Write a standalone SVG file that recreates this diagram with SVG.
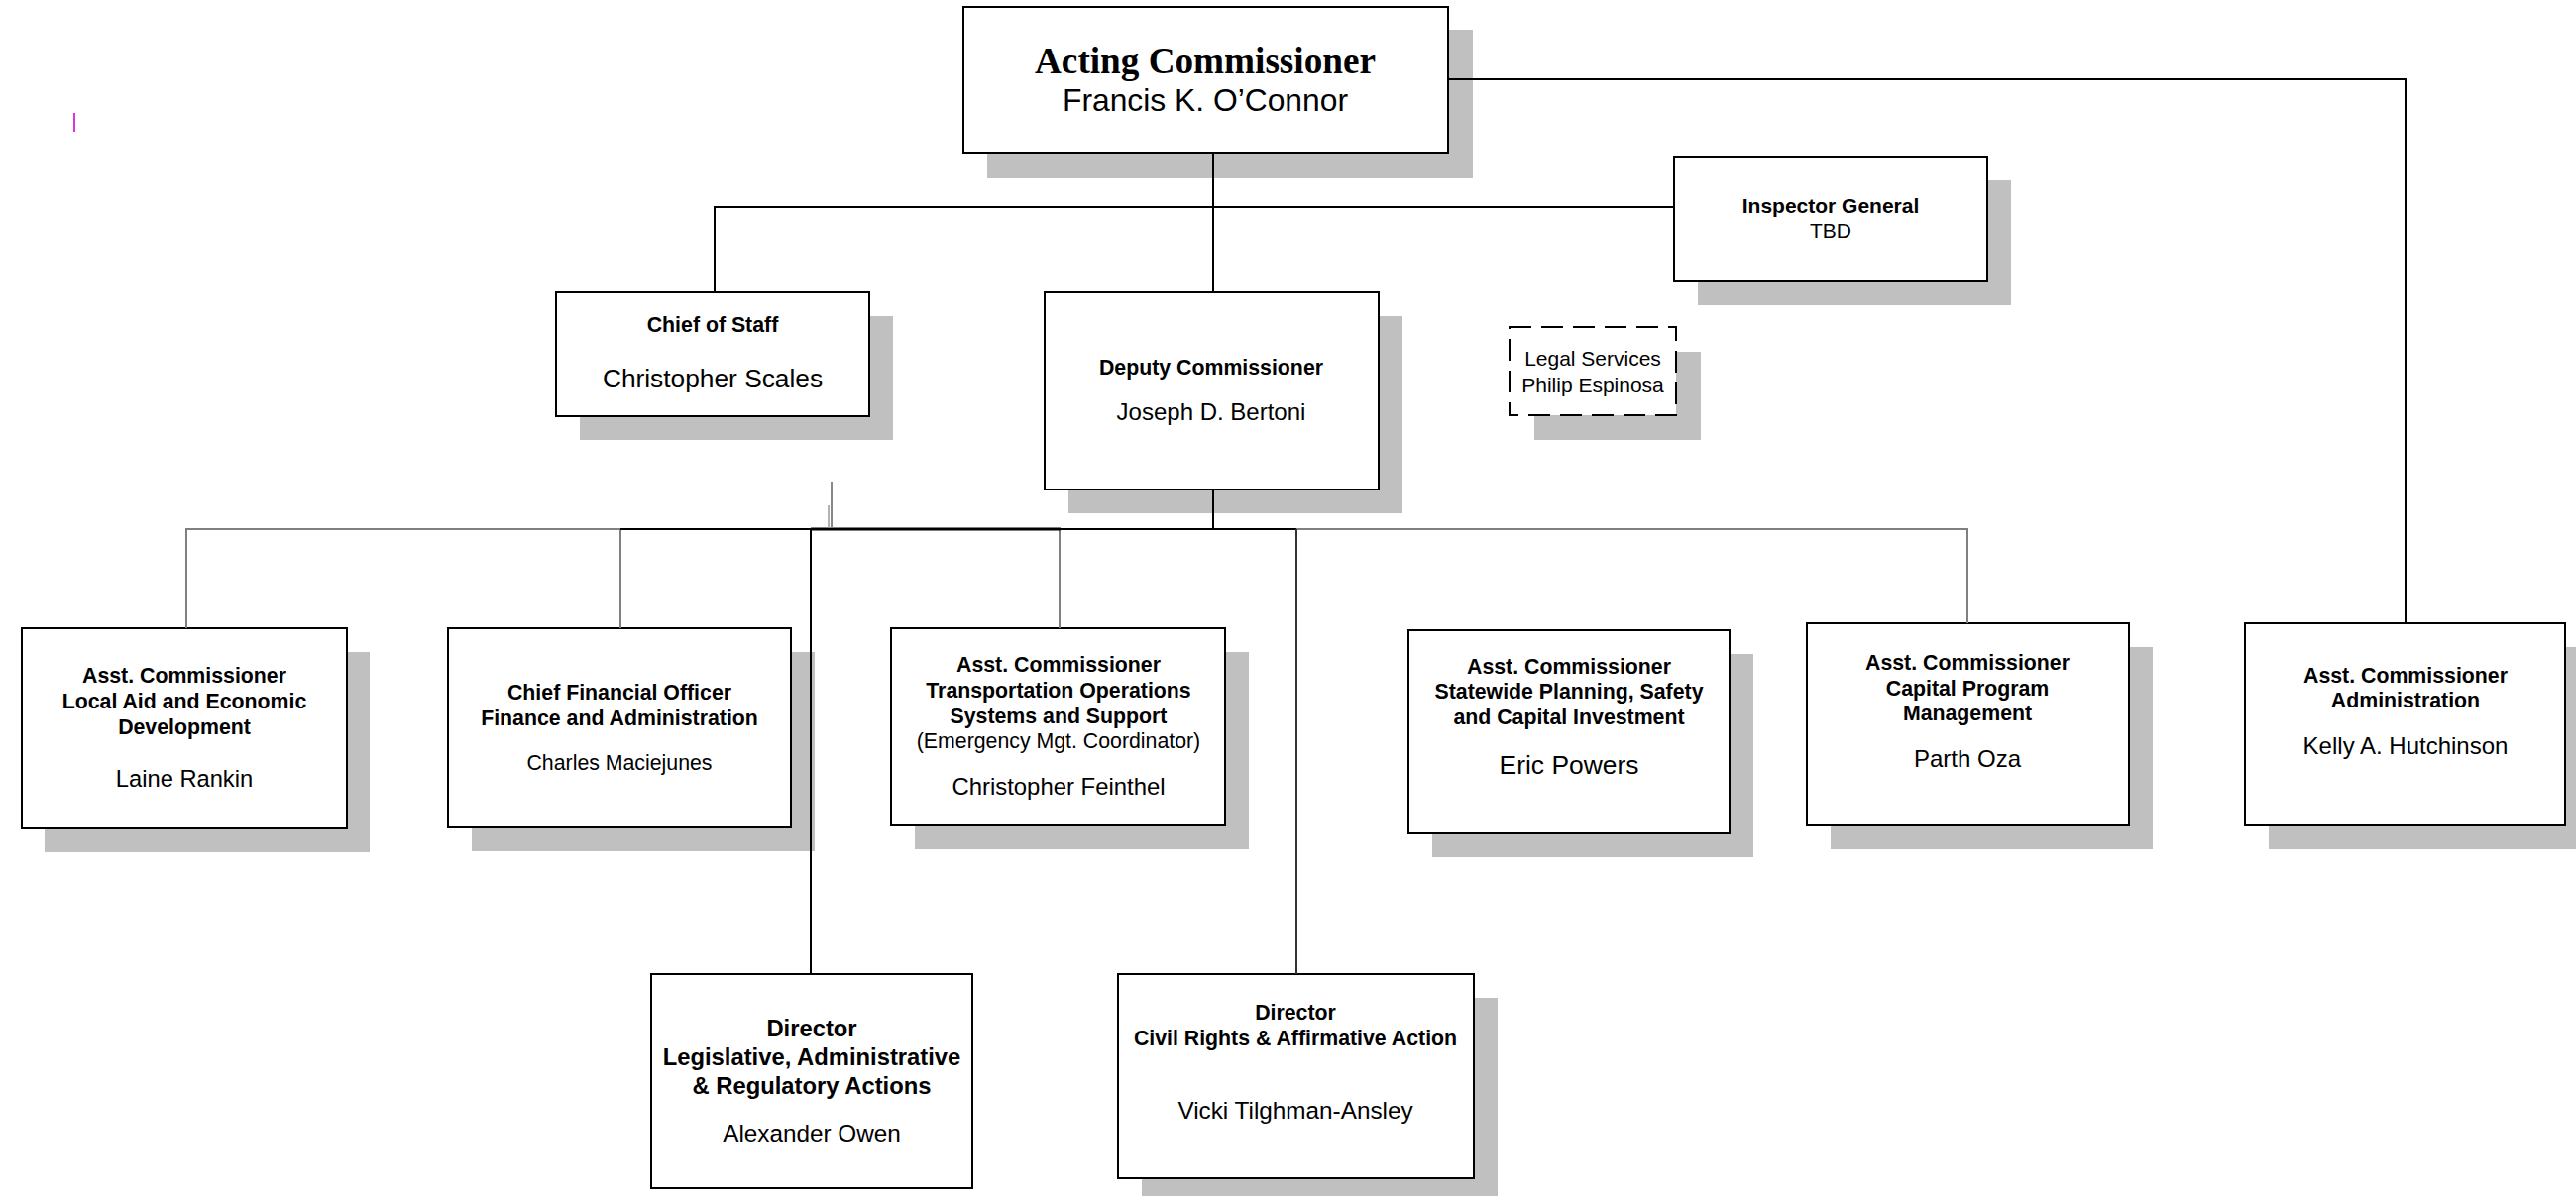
<svg xmlns="http://www.w3.org/2000/svg" width="2599" height="1207" viewBox="0 0 2599 1207">
<style>
.sh{fill:#c0c0c0}
.bx{fill:#fff;stroke:#000;stroke-width:2}
.dash{fill:#fff;stroke:#000;stroke-width:2;stroke-dasharray:22 10}
text{font-family:"Liberation Sans",Arial,sans-serif;text-anchor:middle;fill:#000}
.b{font-weight:bold;font-size:21.3px}
.r{font-size:21.3px}
.n{font-size:24px}
.ln{fill:none;stroke:#000;stroke-width:2}
.gl{fill:none;stroke:#808080;stroke-width:2}
</style>
<rect width="2599" height="1207" fill="#fff"/>
<line x1="75" y1="114" x2="75" y2="133" stroke="#e033e0" stroke-width="2"/>

<g id="acting-commissioner">
<rect class="sh" x="996" y="30" width="490" height="150"/>
<rect class="bx" x="972" y="7" width="489" height="147"/>
<text x="1216" y="74" style="font-family:'Liberation Serif','Times New Roman',serif;font-weight:bold;font-size:37.2px">Acting Commissioner</text>
<text x="1216" y="112" style="font-size:31.8px">Francis K. O’Connor</text>
</g>

<g id="inspector-general">
<rect class="sh" x="1713" y="182" width="316" height="126"/>
<rect class="bx" x="1689" y="158" width="316" height="126"/>
<text class="b" x="1847" y="215" style="font-size:21px">Inspector General</text>
<text class="r" x="1847" y="240" style="font-size:21px">TBD</text>
</g>

<g id="chief-of-staff">
<rect class="sh" x="585" y="319" width="316" height="125"/>
<rect class="bx" x="561" y="295" width="316" height="125"/>
<text class="b" x="719" y="335">Chief of Staff</text>
<text x="719" y="391" style="font-size:26.3px">Christopher Scales</text>
</g>

<g id="deputy-commissioner">
<rect class="sh" x="1078" y="319" width="337" height="199"/>
<rect class="bx" x="1054" y="295" width="337" height="199"/>
<text class="b" x="1222" y="378">Deputy Commissioner</text>
<text class="n" x="1222" y="424">Joseph D. Bertoni</text>
</g>

<g id="legal-services">
<rect class="sh" x="1548" y="355" width="168" height="89"/>
<rect class="dash" x="1523" y="330" width="168" height="89"/>
<text class="r" x="1607" y="369" style="font-size:21px">Legal Services</text>
<text class="r" x="1607" y="396" style="font-size:21px">Philip Espinosa</text>
</g>

<g id="local-aid">
<rect class="sh" x="45" y="658" width="328" height="202"/>
<rect class="bx" x="22" y="634" width="328" height="202"/>
<text class="b" x="186" y="689">Asst. Commissioner</text>
<text class="b" x="186" y="715">Local Aid and Economic</text>
<text class="b" x="186" y="741">Development</text>
<text x="186" y="794" style="font-size:23.7px">Laine Rankin</text>
</g>

<g id="cfo">
<rect class="sh" x="476" y="658" width="346" height="201"/>
<rect class="bx" x="452" y="634" width="346" height="201"/>
<text class="b" x="625" y="706">Chief Financial Officer</text>
<text class="b" x="625" y="732">Finance and Administration</text>
<text class="r" x="625" y="777">Charles Maciejunes</text>
</g>

<g id="transportation-operations">
<rect class="sh" x="923" y="658" width="337" height="199"/>
<rect class="bx" x="899" y="634" width="337" height="199"/>
<text class="b" x="1068" y="678">Asst. Commissioner</text>
<text class="b" x="1068" y="704">Transportation Operations</text>
<text class="b" x="1068" y="730">Systems and Support</text>
<text class="r" x="1068" y="755">(Emergency Mgt. Coordinator)</text>
<text x="1068" y="802" style="font-size:23.9px">Christopher Feinthel</text>
</g>

<g id="statewide-planning">
<rect class="sh" x="1445" y="660" width="324" height="205"/>
<rect class="bx" x="1421" y="636" width="324" height="205"/>
<text class="b" x="1583" y="680">Asst. Commissioner</text>
<text class="b" x="1583" y="705">Statewide Planning, Safety</text>
<text class="b" x="1583" y="731">and Capital Investment</text>
<text x="1583" y="781" style="font-size:26.4px">Eric Powers</text>
</g>

<g id="capital-program">
<rect class="sh" x="1847" y="653" width="325" height="204"/>
<rect class="bx" x="1823" y="629" width="325" height="204"/>
<text class="b" x="1985" y="676">Asst. Commissioner</text>
<text class="b" x="1985" y="702">Capital Program</text>
<text class="b" x="1985" y="727">Management</text>
<text class="n" x="1985" y="774">Parth Oza</text>
</g>

<g id="administration">
<rect class="sh" x="2289" y="653" width="323" height="204"/>
<rect class="bx" x="2265" y="629" width="323" height="204"/>
<text class="b" x="2427" y="689">Asst. Commissioner</text>
<text class="b" x="2427" y="714">Administration</text>
<text class="n" x="2427" y="761">Kelly A. Hutchinson</text>
</g>

<g id="legislative-director">
<rect class="bx" x="657" y="983" width="324" height="216"/>
<text class="b" x="819" y="1046" style="font-size:23.8px">Director</text>
<text class="b" x="819" y="1075" style="font-size:23.8px">Legislative, Administrative</text>
<text class="b" x="819" y="1104" style="font-size:23.8px">&amp; Regulatory Actions</text>
<text x="819" y="1152" style="font-size:24.3px">Alexander Owen</text>
</g>

<g id="civil-rights-director">
<rect class="sh" x="1152" y="1007" width="359" height="206"/>
<rect class="bx" x="1128" y="983" width="359" height="206"/>
<text class="b" x="1307" y="1029">Director</text>
<text class="b" x="1307" y="1055">Civil Rights &amp; Affirmative Action</text>
<text x="1307" y="1129" style="font-size:24.3px">Vicki Tilghman-Ansley</text>
</g>

<g id="connectors">
<path class="ln" d="M1461 80 H2427 V629"/>
<path class="ln" d="M1224 154 V295"/>
<path class="ln" d="M721 295 V209 H1689"/>
<path class="ln" d="M1224 494 V534"/>
<path class="gl" d="M188 634 V534 H626 V634"/>
<path class="gl" d="M1308 534 H1985 V629"/>
<path class="gl" d="M1069 534 V634"/>
<path class="ln" d="M626 534 H1308"/>
<path d="M818 534 H1070" stroke="#000" stroke-width="3" fill="none"/>
<path class="ln" d="M818 534 V983"/>
<path d="M1308 534 V983" stroke="#333" stroke-width="2" fill="none"/>
<path d="M839 486 V533" stroke="#888" stroke-width="2" fill="none"/>
<path d="M836 510 V533" stroke="#999" stroke-width="1.5" fill="none"/>
</g>
</svg>
